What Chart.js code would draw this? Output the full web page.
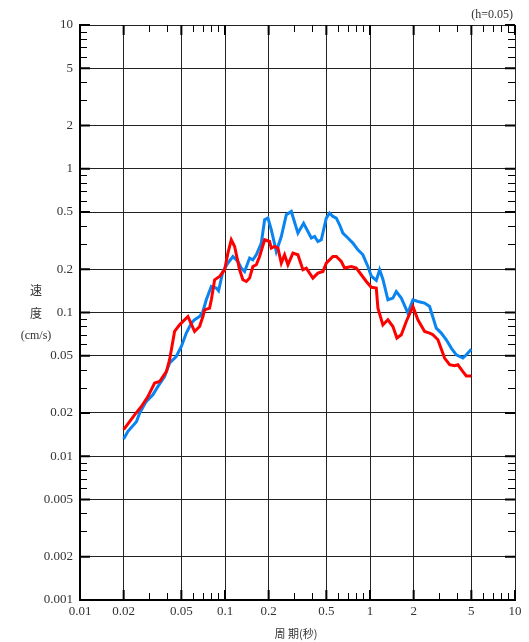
<!DOCTYPE html>
<html>
<head>
<meta charset="utf-8">
<script src="https://cdn.jsdelivr.net/npm/chart.js@4.4.1/dist/chart.umd.min.js"></script>
<style>
  html, body { margin: 0; padding: 0; background: #fff; }
  canvas { display: block; }
</style>
</head>
<body>
<canvas id="chartCanvas" width="529" height="642"></canvas>
<script>
// Periods (s) and velocity (cm/s)
var bluePeriod = [0.02, 0.0214, 0.0245, 0.0258, 0.0286, 0.0318, 0.0345, 0.0383, 0.0415, 0.0461,
  0.05, 0.0541, 0.0586, 0.0617, 0.0668, 0.0704, 0.0743, 0.0805, 0.0871, 0.0903,
  0.0967, 0.1047, 0.1134, 0.1227, 0.1295, 0.1365, 0.1478, 0.1557, 0.1644, 0.178,
  0.1876, 0.1977, 0.2085, 0.2258, 0.2445, 0.2648, 0.2866, 0.3183, 0.3485, 0.3938,
  0.415, 0.4373, 0.4614, 0.4995, 0.5264, 0.5548, 0.5855, 0.617, 0.6502, 0.704,
  0.7622, 0.8254, 0.8936, 0.967, 1.021, 1.105, 1.165, 1.227, 1.329, 1.439,
  1.518, 1.644, 1.825, 1.977, 2.139, 2.381, 2.577, 2.865, 3.103, 3.359,
  3.636, 3.937, 4.372, 4.617, 5.0];
var blueVel = [0.0132, 0.0149, 0.0174, 0.0200, 0.0240, 0.0268, 0.0306, 0.0359, 0.0445, 0.0494,
  0.0580, 0.0719, 0.0844, 0.0890, 0.0938, 0.1016, 0.1226, 0.1517, 0.1479, 0.1416,
  0.1929, 0.2207, 0.2453, 0.2264, 0.2037, 0.1929, 0.2391, 0.2326, 0.252, 0.304,
  0.4416, 0.454, 0.3764, 0.2658, 0.338, 0.4786, 0.5045, 0.3567, 0.4176, 0.3296,
  0.338, 0.3119, 0.3206, 0.454, 0.4918, 0.4657, 0.454, 0.4076, 0.3567, 0.3296,
  0.304, 0.2731, 0.252, 0.2089, 0.1789, 0.1673, 0.1983, 0.1706, 0.1226, 0.1259,
  0.140, 0.1259, 0.099, 0.1226, 0.1193, 0.1162, 0.1101, 0.0779, 0.0719, 0.0646,
  0.0565, 0.0508, 0.0482, 0.0508, 0.0556];

var redPeriod = [0.02, 0.0238, 0.0265, 0.0294, 0.0327, 0.0354, 0.0394, 0.0415, 0.0449, 0.0486,
  0.0555, 0.0617, 0.0668, 0.0704, 0.0723, 0.0783, 0.0805, 0.0848, 0.0918, 0.0994,
  0.1047, 0.1105, 0.1165, 0.1261, 0.1328, 0.1403, 0.1478, 0.1557, 0.1644, 0.1732,
  0.1876, 0.203, 0.2085, 0.2198, 0.2317, 0.2445, 0.2576, 0.2716, 0.294, 0.3183,
  0.3445, 0.3636, 0.4038, 0.4373, 0.4733, 0.4995, 0.5548, 0.5855, 0.634, 0.668,
  0.7431, 0.8045, 0.871, 0.943, 1.021, 1.105, 1.134, 1.227, 1.329, 1.439,
  1.533, 1.644, 1.779, 1.977, 2.139, 2.381, 2.577, 2.716, 2.94, 3.269,
  3.54, 3.831, 4.038, 4.372, 4.617, 5.0];
var redVel = [0.0153, 0.0194, 0.0222, 0.0260, 0.0323, 0.0331, 0.0388, 0.0469, 0.0738, 0.0821,
  0.0938, 0.0738, 0.0799, 0.0938, 0.1044, 0.1073, 0.1226, 0.1689, 0.178, 0.1983,
  0.259, 0.3206, 0.288, 0.1983, 0.1689, 0.1643, 0.1735, 0.2089, 0.2148, 0.2453,
  0.3206, 0.3119, 0.2805, 0.288, 0.2805, 0.2207, 0.252, 0.2148, 0.259, 0.252,
  0.1983, 0.2037, 0.1735, 0.188, 0.1929, 0.2207, 0.2453, 0.2453, 0.2264, 0.2037,
  0.2089, 0.2037, 0.183, 0.1643, 0.1497, 0.1479, 0.1073, 0.0821, 0.089, 0.0799,
  0.0664, 0.070, 0.0866, 0.1101, 0.089, 0.0738, 0.0719, 0.070, 0.0646, 0.0482,
  0.0433, 0.0426, 0.0433, 0.0388, 0.0362, 0.0362];

// Axis ticks
var xTicks = [0.01, 0.02, 0.05, 0.1, 0.2, 0.5, 1, 2, 5, 10];
var xLabels = ["0.01", "0.02", "0.05", "0.1", "0.2", "0.5", "1", "2", "5", "10"];
var yTicks = [0.001, 0.002, 0.005, 0.01, 0.02, 0.05, 0.1, 0.2, 0.5, 1, 2, 5, 10];
var yLabels = ["0.001", "0.002", "0.005", "0.01", "0.02", "0.05", "0.1", "0.2", "0.5", "1", "2", "5", "10"];
var minorSteps = [3, 4, 6, 7, 8, 9];

var serif = "'Liberation Serif', 'DejaVu Serif', serif";
var cjk = "'Noto Sans CJK JP', 'Noto Sans CJK SC', sans-serif";

function toPoints(xs, ys) {
  var pts = [];
  for (var i = 0; i < xs.length; i++) pts.push({ x: xs[i], y: ys[i] });
  return pts;
}

// short inner ticks on the frame + texts
var framePlugin = {
  id: "frame",
  afterDraw: function (chart) {
    var ctx = chart.ctx;
    var a = chart.chartArea;
    var xs = chart.scales.x;
    var ys = chart.scales.y;
    ctx.save();
    ctx.strokeStyle = "#000";

    // minor ticks
    ctx.lineWidth = 1;
    ctx.beginPath();
    for (var d = 0.01; d < 10; d *= 10) {
      minorSteps.forEach(function (m) {
        var px = Math.round(xs.getPixelForValue(m * d)) + 0.5;
        ctx.moveTo(px, a.bottom); ctx.lineTo(px, a.bottom - 7);
        ctx.moveTo(px, a.top); ctx.lineTo(px, a.top + 7);
      });
    }
    for (var e = 0.001; e < 10; e *= 10) {
      minorSteps.forEach(function (m) {
        var py = Math.round(ys.getPixelForValue(m * e)) + 0.5;
        ctx.moveTo(a.left, py); ctx.lineTo(a.left + 7, py);
        ctx.moveTo(a.right, py); ctx.lineTo(a.right - 7, py);
      });
    }
    ctx.stroke();

    // major ticks, a bit heavier
    ctx.lineWidth = 2;
    ctx.beginPath();
    xTicks.forEach(function (v) {
      var px = xs.getPixelForValue(v);
      ctx.moveTo(px, a.bottom); ctx.lineTo(px, a.bottom - 10);
      ctx.moveTo(px, a.top); ctx.lineTo(px, a.top + 10);
    });
    yTicks.forEach(function (v) {
      var py = ys.getPixelForValue(v);
      ctx.moveTo(a.left, py); ctx.lineTo(a.left + 10, py);
      ctx.moveTo(a.right, py); ctx.lineTo(a.right - 10, py);
    });
    ctx.stroke();

    // texts
    ctx.fillStyle = "#333";
    ctx.textBaseline = "middle";
    ctx.textAlign = "right";
    ctx.font = "12px " + serif;
    ctx.fillText("(h=0.05)", a.right - 2, 15);

    ctx.textAlign = "center";
    ctx.font = "12px " + cjk;
    ctx.fillText("速", 36, 290);
    ctx.fillText("度", 36, 313);
    ctx.font = "12px " + serif;
    ctx.fillText("(cm/s)", 36, 336);

    ctx.font = "11px " + cjk;
    ctx.fillText("周 期(秒)", 296, 634);
    ctx.restore();
  },
};

var ctx = document.getElementById("chartCanvas").getContext("2d");
var newChart = new Chart(ctx, {
  type: "line",
  data: {
    datasets: [
      {
        label: "red",
        data: toPoints(redPeriod, redVel),
        borderColor: "#ff0000",
        borderWidth: 3,
        pointRadius: 0,
        tension: 0,
        order: 1,
      },
      {
        label: "blue",
        data: toPoints(bluePeriod, blueVel),
        borderColor: "#0a84f0",
        borderWidth: 3,
        pointRadius: 0,
        tension: 0,
        order: 2,
      },
    ],
  },
  options: {
    responsive: false,
    animation: false,
    devicePixelRatio: 1,
    layout: { padding: { top: 25, right: 14, left: 0, bottom: 0 } },
    plugins: {
      legend: { display: false },
      tooltip: { enabled: false },
    },
    scales: {
      x: {
        type: "logarithmic",
        min: 0.01,
        max: 10,
        afterBuildTicks: function (scale) {
          scale.ticks = xTicks.map(function (v) { return { value: v }; });
        },
        afterFit: function (scale) { scale.height = 42; },
        ticks: {
          autoSkip: false,
          maxRotation: 0,
          padding: 4,
          color: "#333",
          font: { family: serif, size: 13 },
          callback: function (value, index) { return xLabels[index]; },
        },
        grid: { color: "#222", lineWidth: 1, drawTicks: false },
        border: { display: true, color: "#000", width: 2 },
      },
      y: {
        type: "logarithmic",
        min: 0.001,
        max: 10,
        afterBuildTicks: function (scale) {
          scale.ticks = yTicks.map(function (v) { return { value: v }; });
        },
        afterFit: function (scale) { scale.width = 80; },
        ticks: {
          autoSkip: false,
          padding: 7,
          color: "#333",
          font: { family: serif, size: 13 },
          callback: function (value, index) { return yLabels[index]; },
        },
        grid: { color: "#222", lineWidth: 1, drawTicks: false },
        border: { display: true, color: "#000", width: 2 },
      },
    },
  },
  plugins: [framePlugin],
});
</script>
</body>
</html>
